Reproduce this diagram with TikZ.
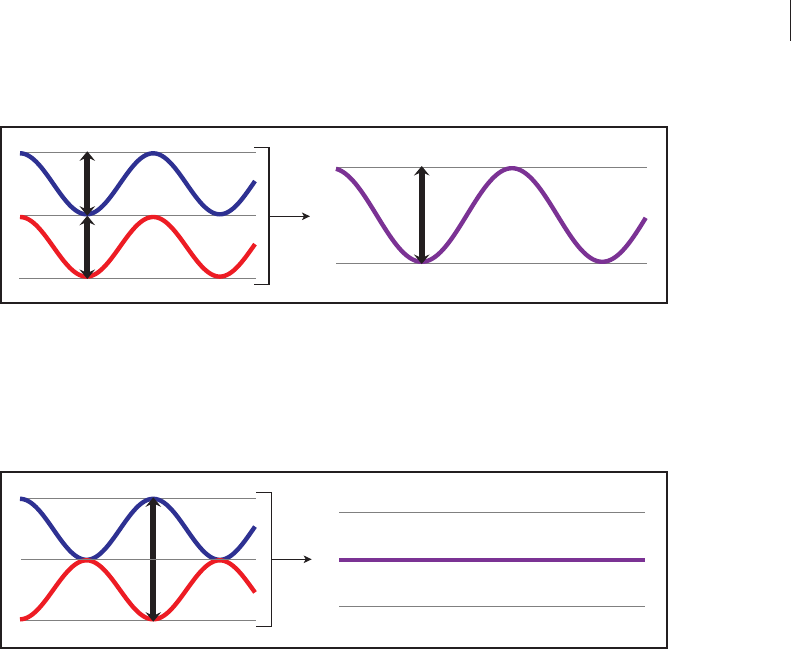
\documentclass[tikz,border=0pt]{standalone}
\usetikzlibrary{arrows.meta}
\definecolor{wblue}{RGB}{46,49,146}
\definecolor{wred}{RGB}{237,28,36}
\definecolor{wpurple}{RGB}{123,50,148}
\definecolor{gline}{RGB}{128,128,128}
\definecolor{ink}{RGB}{35,31,32}
\tikzset{
  frame/.style={draw=ink, line width=2pt},
  guide/.style={draw=gline, line width=1pt},
  wave/.style={line width=4.4pt, line cap=butt},
  bigarrow/.style={draw=ink, line width=6.2pt,
    {Stealth[length=9.5pt,width=15.5pt,inset=3.5pt]}-{Stealth[length=9.5pt,width=15.5pt,inset=3.5pt]}},
  bracketline/.style={draw=ink, line width=1.3pt},
  smallarrow/.style={draw=ink, line width=1.3pt, -{Stealth[length=8pt,width=7.5pt,inset=2pt]}},
}
\begin{document}
\begin{tikzpicture}[x=1pt,y=-1pt]
\useasboundingbox (0,0) rectangle (791,658);
% top-right mark
\draw[ink, line width=1pt] (790,0) -- (790,40.7);

% ================= TOP PANEL =================
\draw[frame] (1,127.3) rectangle (666.7,303);
% guides left
\coordinate (tg1a) at (20,152.3);  \coordinate (tg1b) at (255.7,152.3);
\coordinate (tg2a) at (20,215.7);  \coordinate (tg2b) at (255.7,215.7);
\coordinate (tg3a) at (19,278.3);  \coordinate (tg3b) at (255.7,278.3);
\draw[guide] (tg1a) -- (tg1b);
\draw[guide] (tg2a) -- (tg2b);
\draw[guide] (tg3a) -- (tg3b);
% waves
\draw[wave, wblue] plot[domain=20:255, samples=120] (\x, {183.8 - 30.5*cos(2.7027*(\x-20))});
\draw[wave, wred] plot[domain=20:255, samples=120] (\x, {246.8 - 29.8*cos(2.7027*(\x-20))});
% amplitude arrows
\coordinate (ta1) at (87.3,151.3);
\coordinate (ta2) at (87.3,215.7);
\coordinate (ta3) at (87.3,279);
\draw[bigarrow] (ta1) -- (ta2);
\draw[bigarrow] (ta2) -- (ta3);
% bracket
\coordinate (tb1) at (254.3,147.3);
\coordinate (tb2) at (269,147.3);
\coordinate (tb3) at (269,284.3);
\coordinate (tb4) at (254.3,284.3);
\draw[bracketline] (tb1) -- (tb2) -- (tb3) -- (tb4);
\coordinate (tarrs) at (269,216.3);
\coordinate (tarre) at (310,216.3);
\draw[smallarrow] (tarrs) -- (tarre);
% result
\coordinate (tr1a) at (336,167.3); \coordinate (tr1b) at (647.3,167.3);
\coordinate (tr2a) at (336,263.3); \coordinate (tr2b) at (647.3,263.3);
\draw[guide] (tr1a) -- (tr1b);
\draw[guide] (tr2a) -- (tr2b);
\draw[wave, wpurple] plot[domain=336:645.7, samples=160] (\x, {215 - 46.8*cos(1.99336*(\x-331.4))});
\coordinate (tra1) at (421.7,166);
\coordinate (tra2) at (421.7,264);
\draw[bigarrow] (tra1) -- (tra2);

% ================= BOTTOM PANEL =================
\draw[frame] (1,472.3) rectangle (666.7,648.3);
\draw[guide] (20,498.3) -- (255.7,498.3);
\draw[guide] (20,620.3) -- (255.7,620.3);
\draw[wave, wblue] plot[domain=20:255, samples=120] (\x, {529.3 - 30.5*cos(2.7027*(\x-20))});
\draw[wave, wred] plot[domain=20:255, samples=120] (\x, {589.8 + 29.5*cos(2.7027*(\x-20))});
\coordinate (ba1) at (153.3,497.3);
\coordinate (ba2) at (153.3,621.7);
\draw[bigarrow] (ba1) -- (ba2);
\coordinate (bg2a) at (21,559.3); \coordinate (bg2b) at (255.7,559.3);
\draw[guide] (bg2a) -- (bg2b);
% bracket
\coordinate (bb1) at (256,492.3);
\coordinate (bb2) at (271.7,492.3);
\coordinate (bb3) at (271.7,626.3);
\coordinate (bb4) at (256,626.3);
\draw[bracketline] (bb1) -- (bb2) -- (bb3) -- (bb4);
\coordinate (barrs) at (271.7,559.3);
\coordinate (barre) at (311.7,559.3);
\draw[smallarrow] (barrs) -- (barre);
% result
\draw[guide] (339,512.3) -- (645,512.3);
\draw[guide] (339,606.3) -- (645,606.3);
\draw[wpurple, line width=4pt] (339,560) -- (645,560);
\end{tikzpicture}
\end{document}
